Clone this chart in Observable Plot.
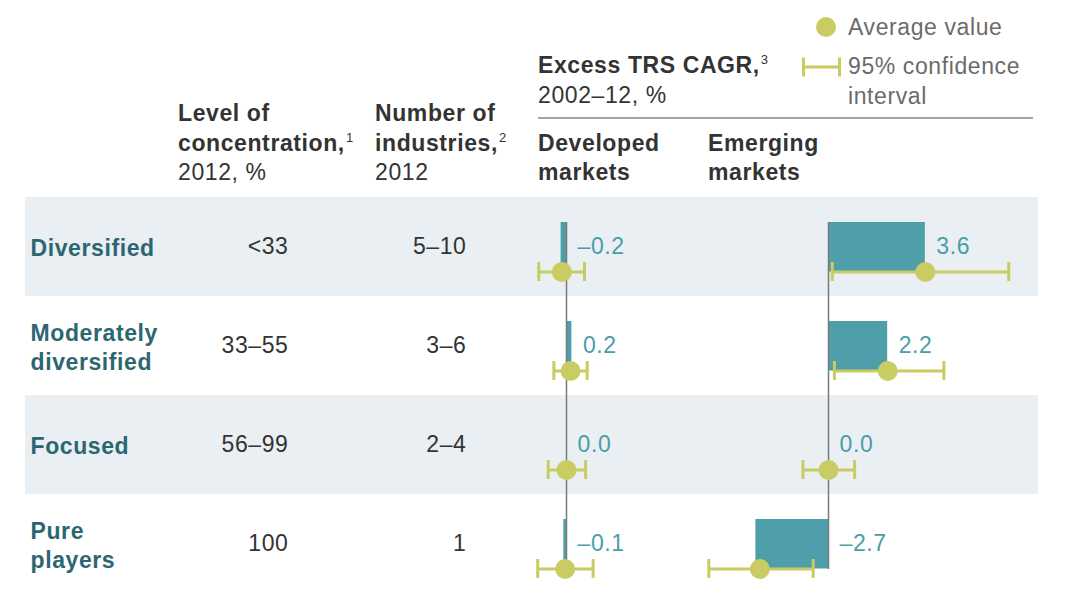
<!DOCTYPE html>
<html><head><meta charset="utf-8">
<script src="https://cdn.jsdelivr.net/npm/d3@7"></script>
<script src="https://cdn.jsdelivr.net/npm/@observablehq/plot@0.6"></script>
<style>
body{margin:0;background:#fff;font-family:"Liberation Sans",Arial,sans-serif;}
#wrap{position:relative;width:1077px;height:596px;overflow:hidden;background:#fff}
.h{position:absolute;font-size:23px;letter-spacing:0.6px;line-height:29.5px;color:#333;white-space:nowrap}
.b{font-weight:bold}
.g{color:#6b6b6b}
.sup{font-size:13px;line-height:0;position:relative;top:-9px;font-weight:normal;margin-left:1px;letter-spacing:0}
#rows{position:absolute;left:0;top:197px;display:flex}
#rows svg{display:block}
</style></head><body>
<div id="wrap">
  <div class="h" style="left:178px;top:99px"><span class="b">Level of<br>concentration,</span><span class="sup">1</span><br>2012, %</div>
  <div class="h" style="left:375px;top:99px"><span class="b">Number of<br>industries,</span><span class="sup">2</span><br>2012</div>
  <div class="h" style="left:538px;top:51px"><span class="b">Excess TRS CAGR,</span><span class="sup">3</span><br>2002–12, %</div>
  <div style="position:absolute;left:538px;top:117px;width:495px;height:2px;background:#a3a3a3"></div>
  <div class="h b" style="left:538px;top:128.5px">Developed<br>markets</div>
  <div class="h b" style="left:708px;top:128.5px">Emerging<br>markets</div>
  <svg style="position:absolute;left:795px;top:10px" width="50" height="80">
    <circle cx="31" cy="17" r="10" fill="#c8cc63"></circle>
    <line x1="8" x2="45" y1="57" y2="57" stroke="#c8cc63" stroke-width="3"></line>
    <line x1="8.5" x2="8.5" y1="47.5" y2="66.5" stroke="#c8cc63" stroke-width="3"></line>
    <line x1="44.5" x2="44.5" y1="47.5" y2="66.5" stroke="#c8cc63" stroke-width="3"></line>
  </svg>
  <div class="h g" style="left:848px;top:12.5px">Average value</div>
  <div class="h g" style="left:848px;top:52px">95% confidence<br>interval</div>
  <div id="rows"></div>
</div>
<script>
// ---- data ----
const categories = ["Diversified", "Moderately diversified", "Focused", "Pure players"];
const categoryLabels = ["Diversified", "Moderately\ndiversified", "Focused", "Pure\nplayers"];
const concentration = ["<33", "33–55", "56–99", "100"];
const industries = ["5–10", "3–6", "2–4", "1"];
const devValue = [-0.2, 0.2, 0.0, -0.1];
const devAverage = [-0.17, 0.15, 0.0, -0.05];
const devLow = [-1.03, -0.47, -0.68, -1.07];
const devHigh = [0.67, 0.77, 0.71, 0.99];
const emValue = [3.6, 2.2, 0.0, -2.7];
const emAverage = [3.6, 2.2, 0.0, -2.55];
const emLow = [0.14, 0.22, -0.95, -4.45];
const emHigh = [6.7, 4.29, 0.97, -0.57];

// ---- styles ----
const BAND = "#e9eff2", TEAL = "#4f9faa", TEAL_TXT = "#4a9dab", DARK_TEAL = "#2c6671", LIME = "#c8cc63";
const FONT = "Liberation Sans, Arial, sans-serif";
const FS = 23;
const H = 396, PX_PER_UNIT = 26.9;
const fmt = v => (v < 0 ? "–" : "") + Math.abs(v).toFixed(1);

const rowsData = categories.map((c, i) => ({cat: c, label: categoryLabels[i], conc: concentration[i], num: industries[i]}));
const striped = rowsData.filter((d, i) => i % 2 === 0);

const yScale = {type: "band", domain: categories, padding: 0, axis: null};
const common = {height: H, marginTop: 0, marginBottom: 0, y: yScale,
  style: {fontFamily: FONT, fontSize: FS + "px", letterSpacing: "0.6px", background: "transparent", overflow: "visible"}};

// left table
const left = Plot.plot({
  ...common, width: 530, marginLeft: 25, marginRight: 0,
  x: {axis: null},
  marks: [
    Plot.cell(striped, {y: "cat", fill: BAND, inset: 0}),
    Plot.text(rowsData, {y: "cat", text: "label", frameAnchor: "left", dx: 5, textAnchor: "start", fill: DARK_TEAL, fontWeight: "bold", fontSize: FS, lineHeight: 29.5 / FS}),
    Plot.text(rowsData, {y: "cat", text: "conc", frameAnchor: "left", dx: 263, textAnchor: "end", fill: "#333", fontSize: FS}),
    Plot.text(rowsData, {y: "cat", text: "num", frameAnchor: "left", dx: 441, textAnchor: "end", fill: "#333", fontSize: FS})
  ]
});

function panel(values, avgs, lows, highs, width, marginRight, zeroOffset) {
  const data = categories.map((c, i) => ({cat: c, v: values[i], a: avgs[i], lo: lows[i], hi: highs[i]}));
  const frameW = width - marginRight;
  return Plot.plot({
    ...common, width, marginLeft: 0, marginRight,
    x: {domain: [-zeroOffset / PX_PER_UNIT, (frameW - zeroOffset) / PX_PER_UNIT], axis: null},
    marks: [
      Plot.cell(striped, {y: "cat", fill: BAND, inset: 0}),
      Plot.barX(data, {y: "cat", x: "v", fill: TEAL, insetTop: 25, insetBottom: 24.5}),
      Plot.ruleX([0], {stroke: "#7a7a7a", strokeWidth: 1.5, insetTop: 25, insetBottom: 24}),
      Plot.ruleY(data, {y: "cat", x1: "lo", x2: "hi", dy: 25, stroke: LIME, strokeWidth: 3}),
      Plot.tickX(data, {y: "cat", x: "lo", insetTop: 65, insetBottom: 15, stroke: LIME, strokeWidth: 3}),
      Plot.tickX(data, {y: "cat", x: "hi", insetTop: 65, insetBottom: 15, stroke: LIME, strokeWidth: 3}),
      Plot.dot(data, {y: "cat", x: "a", r: 10, fill: LIME, dy: 25}),
      Plot.text(data, {y: "cat", x: d => Math.max(0, d.v), text: d => fmt(d.v), dx: 11, textAnchor: "start", fill: TEAL_TXT, fontSize: FS})
    ]
  });
}

const dev = panel(devValue, devAverage, devLow, devHigh, 175, 0, 36);
const em = panel(emValue, emAverage, emLow, emHigh, 372, 39, 123);
const rows = document.getElementById("rows");
rows.append(left, dev, em);
</script>
</body></html>
